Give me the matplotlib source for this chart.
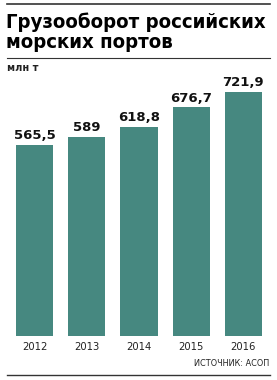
import matplotlib.pyplot as plt

years = ['2012', '2013', '2014', '2015', '2016']
values = [565.5, 589, 618.8, 676.7, 721.9]
labels = ['565,5', '589', '618,8', '676,7', '721,9']

W, H = 277, 380
fig = plt.figure(figsize=(W / 100, H / 100), dpi=100)
fig.patch.set_facecolor('white')

def fx(px):
    return px / W

def fy(py):
    return 1 - py / H

# lines
fig.add_artist(plt.Line2D([fx(7), fx(270)], [fy(4), fy(4)], color='#333333', lw=1.2))
fig.add_artist(plt.Line2D([fx(7), fx(270)], [fy(58), fy(58)], color='#333333', lw=0.8))
fig.add_artist(plt.Line2D([fx(7), fx(270)], [fy(375), fy(375)], color='#333333', lw=1.0))

fig.text(fx(6), fy(28), 'Грузооборот российских', fontsize=14.6, fontweight='bold',
         fontstretch='condensed', color='black', va='baseline', ha='left')
fig.text(fx(6), fy(48), 'морских портов', fontsize=14.6, fontweight='bold',
         fontstretch='condensed', color='black', va='baseline', ha='left')
fig.text(fx(7), fy(71), 'млн т', fontsize=7, fontweight='bold', color='#222222',
         va='baseline', ha='left')

ax = fig.add_axes([fx(8.5), 44 / H, 261 / W, 270.4 / H])
ax.set_facecolor('none')
x = range(len(years))
bars = ax.bar(x, values, width=0.71, color='#468880')
ax.set_xlim(-0.5, 4.5)
ax.set_ylim(0, 800)
for s in ax.spines.values():
    s.set_visible(False)
ax.set_yticks([])
ax.set_xticks(list(x))
ax.set_xticklabels(years, fontsize=8, color='#222222', fontstretch='condensed')
ax.tick_params(axis='x', length=0, pad=4)
for xi, v, lab in zip(x, values, labels):
    ax.text(xi, v + 17, lab, ha='center', va='baseline', fontsize=9.5, fontweight='bold',
            color='#111111')

fig.text(fx(269), fy(366), 'ИСТОЧНИК: АСОП', fontsize=6.5, color='#222222',
         fontstretch='condensed', ha='right', va='baseline')

fig.savefig('out.png', dpi=100)
